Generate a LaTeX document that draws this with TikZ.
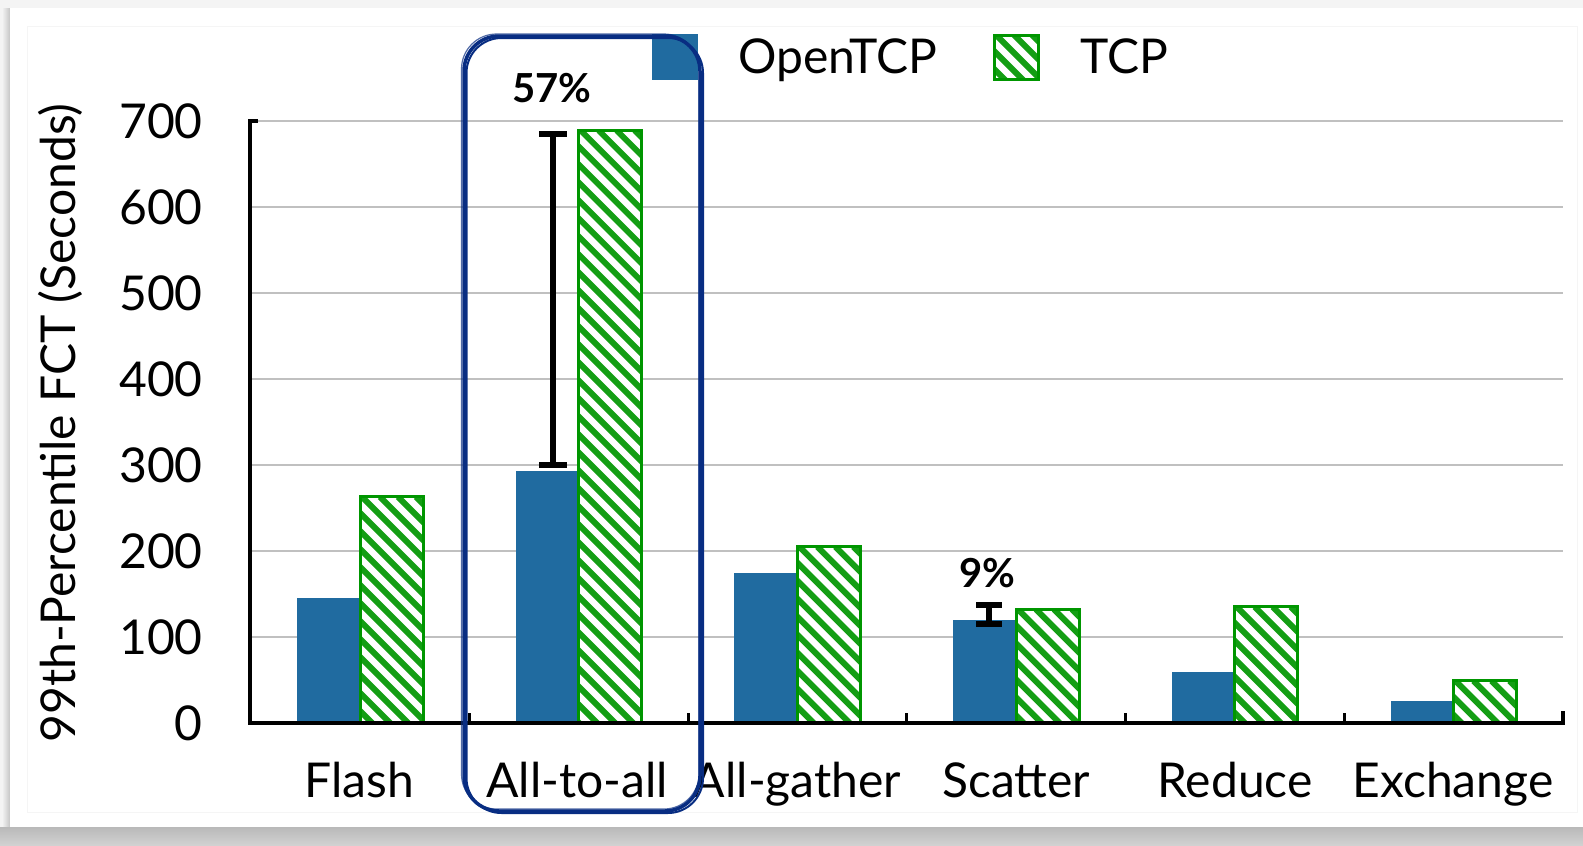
\documentclass[tikz,border=0pt]{standalone}
\usepackage{fontspec}
\setmainfont{Lato}

\definecolor{otcp}{RGB}{32,107,160}
\definecolor{tcpg}{RGB}{0,150,0}
\definecolor{hlnavy}{RGB}{8,45,130}
\definecolor{gridc}{RGB}{192,192,192}
\definecolor{pagebg}{RGB}{244,244,244}

\tikzset{
  openbar/.style={fill=otcp, draw=none},
  tcpedge/.style={draw=tcpg, line width=3pt},
  hatchline/.style={draw=tcpg!92, line width=6pt},
  gridline/.style={draw=gridc, line width=2.5pt},
  axisline/.style={draw=black, line width=4pt},
  ticklabel/.style={anchor=east, inner sep=0pt, font=\fontsize{48}{56}\selectfont},
  catlabel/.style={anchor=base, inner sep=0pt, font=\fontsize{48}{56}\selectfont},
  legtext/.style={anchor=base west, inner sep=0pt, font=\fontsize{48}{56}\selectfont},
  pctlabel/.style={anchor=base, inner sep=0pt, font=\bfseries\fontsize{40}{46}\selectfont},
  errbar/.style={draw=black, line width=6pt},
  hlbox/.style={draw=hlnavy, rounded corners=35pt},
}

% value on the y axis -> vertical position
\newcommand\valy[1]{{723-0.86*(#1)}}

% white box with green diagonal stripes and a green edge
\newcommand\hatchbox[4]{%
  \pgfmathsetmacro\hxa{#1}\pgfmathsetmacro\hya{#2}%
  \pgfmathsetmacro\hxb{#3}\pgfmathsetmacro\hyb{#4}%
  \fill[white] (\hxa,\hya) rectangle (\hxb,\hyb);
  \begin{scope}
    \clip (\hxa,\hya) rectangle (\hxb,\hyb);
    \foreach \a in {-700,-682,...,80}
      \draw[hatchline] ({\hxa+\a},\hya) -- ({\hxa+\a+800},{\hya+800});
  \end{scope}
  \draw[tcpedge] (\hxa,\hya) rectangle (\hxb,\hyb);
}

% one category: split position, OpenTCP value, TCP value
\newcommand\bargroup[3]{%
  \fill[openbar] ({#1-63},723) rectangle (#1,\valy{#2});
  \hatchbox{#1}{723-0.86*#3}{#1+63}{723}
}

\begin{document}
\begin{tikzpicture}[x=1pt,y=-1pt]
  \useasboundingbox (0,0) rectangle (1583,846);

  % card with its soft shadow
  \fill[pagebg] (0,0) rectangle (1583,846);
  \shade[left color=pagebg, right color=gray!45] (2,8) rectangle (10,827);
  \shade[top color=gray!55, bottom color=gray!35] (0,827) rectangle (1583,846);
  \fill[white] (10,8) rectangle (1583,827);
  \draw[gray!8, line width=1pt] (27,26) rectangle (1577,812);

  % horizontal grid
  \foreach \v in {100,200,...,700}
    \draw[gridline] (250,\valy{\v}) -- (1563,\valy{\v});

  % bars
  \bargroup{360}{145}{263}
  \bargroup{578.7}{293}{689}
  \bargroup{797.4}{174}{205}
  \bargroup{1016}{120}{132}
  \bargroup{1234.8}{59}{135}
  \bargroup{1453.5}{26}{49}

  % axes
  \draw[axisline] (258,121) -- (250,121) -- (250,723) -- (1563,723) -- (1563,711);
  \foreach \x in {469,688,906,1125,1344}
    \draw[black, line width=3pt] (\x,723) -- (\x,713);

  % y tick labels
  \foreach \v in {0,100,...,700}
    \node[ticklabel] (tick\v) at (203,\valy{\v}) {\v};

  % axis title
  \node[rotate=90, inner sep=0pt, font=\fontsize{48}{56}\selectfont] (ytitle) at (60,423)
    {99th-Percentile FCT (Seconds)};

  % category labels
  \node[catlabel] (cflash) at (359.4,797) {Flash};
  \node[catlabel] (calltoall) at (577,797) {All-to-all};
  \node[catlabel] (callgather) at (797,797) {All-gather};
  \node[catlabel] (cscatter) at (1016,797) {Scatter};
  \node[catlabel] (creduce) at (1235,797) {Reduce};
  \node[catlabel] (cexchange) at (1453,797) {Exchange};

  % improvement brackets
  \coordinate (atop) at (553,\valy{685});
  \coordinate (abot) at (553,\valy{300});
  \draw[errbar] (atop) -- (abot);
  \draw[errbar] ([xshift=-14pt]atop) -- ([xshift=14pt]atop);
  \draw[errbar] ([xshift=-14pt]abot) -- ([xshift=14pt]abot);
  \node[pctlabel] (p57) at (552,102) {57\%};

  \coordinate (stop) at (989,605);
  \coordinate (sbot) at (989,624);
  \draw[errbar] (stop) -- (sbot);
  \draw[errbar] ([xshift=-13pt]stop) -- ([xshift=13pt]stop);
  \draw[errbar] ([xshift=-13pt]sbot) -- ([xshift=13pt]sbot);
  \node[pctlabel] (p9) at (987,587) {9\%};

  % legend
  \fill[openbar] (652,34) rectangle (698,80);
  \node[legtext] (lopen) at (738,73) {OpenTCP};
  \hatchbox{994}{35}{1038}{79}
  \node[legtext] (ltcp) at (1080,73) {TCP};

  % hand-drawn highlight around All-to-all
  \draw[hlbox, line width=3.5pt] (464,36) rectangle (700,811);
  \draw[hlbox, line width=2pt] (466.5,38) rectangle (703,813);
  \draw[hlbox, line width=1.2pt, opacity=0.7] (461.5,34) rectangle (699,809);
\end{tikzpicture}
\end{document}
